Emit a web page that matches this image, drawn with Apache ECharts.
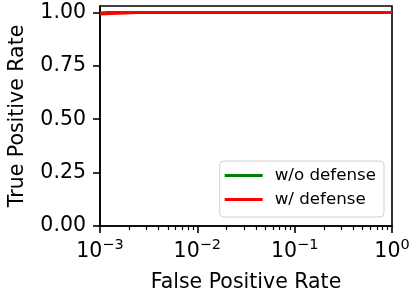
<!DOCTYPE html>
<html><head><meta charset="utf-8">
<script src="https://cdn.jsdelivr.net/npm/echarts@6/dist/echarts.min.js"></script>
<style>html,body{margin:0;padding:0;background:#fff}#c{width:411px;height:297px}</style>
</head><body><div id="c"></div>
<script>
const xMajorTicks = [0.001, 0.01, 0.1, 1];
const xMinorTicks = [0.002,0.003,0.004,0.005,0.006,0.007,0.008,0.009,0.02,0.03,0.04,0.05,0.06,0.07,0.08,0.09,0.2,0.3,0.4,0.5,0.6,0.7,0.8,0.9];
const yTicks = [0, 0.25, 0.5, 0.75, 1.0];
const seriesNames = ['w/o defense', 'w/ defense'];
const fprWo = [0.001, 0.0012, 0.0016, 1];
const tprWo = [0.997, 0.999, 1.0, 1.0];
const fprW = [0.001, 0.0013, 0.0018, 0.0025, 1];
const tprW = [0.992, 0.995, 0.997, 0.9995, 1.0];

const F = 'DejaVu Sans';
const zip = (a, b) => a.map((v, i) => [v, b[i]]);
const chart = echarts.init(document.getElementById('c'), null, {renderer: 'canvas'});
const supFmt = v => {
  const e = Math.round(Math.log10(v));
  return '10{s|' + (e < 0 ? '\u2212' + (-e) : e) + '}';
};
chart.setOption({
  animation: false,
  backgroundColor: '#fff',
  grid: {left: 100, right: 19, top: 6, bottom: 71, show: true, borderColor: '#000', borderWidth: 1.6, backgroundColor: 'transparent', outerBoundsMode: 'none', containLabel: false},
  legend: {
    data: seriesNames, orient: 'vertical', right: 27, bottom: 80,
    itemWidth: 38, itemHeight: 3, itemGap: 7,
    padding: [6, 8, 9, 5],
    borderColor: '#d0d0d0', borderWidth: 1, borderRadius: 4, backgroundColor: 'rgba(255,255,255,0.8)',
    textStyle: {fontFamily: F, fontSize: 16.7, color: '#000', padding: [0, 0, 0, 7]},
    icon: 'rect'
  },
  xAxis: [{
    type: 'log', logBase: 10, min: 0.001, max: 1,
    name: 'False Positive Rate', nameLocation: 'middle', nameGap: 46,
    nameTextStyle: {fontFamily: F, fontSize: 20.5, color: '#000'},
    axisLine: {show: true, lineStyle: {color: '#000', width: 1.6}},
    axisTick: {show: true, length: 7, lineStyle: {color: '#000', width: 1.6}, customValues: xMajorTicks},
    axisLabel: {fontFamily: F, fontSize: 20.5, color: '#000', margin: 12, customValues: xMajorTicks,
      formatter: supFmt, rich: {s: {fontFamily: F, fontSize: 14.5, color: '#000', verticalAlign: 'top', padding: [0, 0, 12, 0]}}},
    splitLine: {show: false}
  }, {
    type: 'log', logBase: 10, min: 0.001, max: 1, position: 'bottom', offset: 0,
    axisLine: {show: false},
    axisTick: {show: true, length: 4, lineStyle: {color: '#000', width: 1.2}, customValues: xMinorTicks},
    axisLabel: {show: false},
    splitLine: {show: false}
  }],
  yAxis: {
    type: 'value', min: 0, max: 1.03,
    name: 'True Positive Rate', nameLocation: 'middle', nameGap: 72,
    nameTextStyle: {fontFamily: F, fontSize: 20.5, color: '#000'},
    axisLine: {show: true, lineStyle: {color: '#000', width: 1.6}},
    axisTick: {show: true, length: 7, lineStyle: {color: '#000', width: 1.6}, customValues: yTicks},
    axisLabel: {fontFamily: F, fontSize: 20.5, color: '#000', margin: 14, customValues: yTicks,
      formatter: v => v.toFixed(2)},
    splitLine: {show: false}
  },
  series: [
    {name: seriesNames[0], type: 'line', data: zip(fprWo, tprWo), symbol: 'none', lineStyle: {color: '#008000', width: 3}, itemStyle: {color: '#008000'}},
    {name: seriesNames[1], type: 'line', data: zip(fprW, tprW), symbol: 'none', lineStyle: {color: '#ff0000', width: 3}, itemStyle: {color: '#ff0000'}}
  ]
});
</script></body></html>
